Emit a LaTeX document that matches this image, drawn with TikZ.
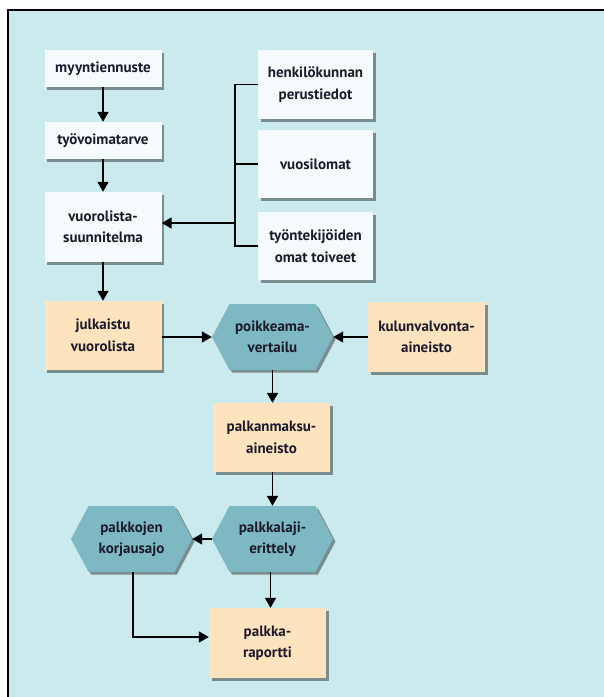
\documentclass[tikz,border=0pt]{standalone}
\usepackage{fontspec}
\setmainfont{PT Sans}
\usetikzlibrary{shapes.symbols,shadows,arrows.meta}
\definecolor{bgc}{HTML}{CBEAED}
\definecolor{wfill}{HTML}{F5FBFC}
\definecolor{tfill}{HTML}{FDE4BF}
\definecolor{hfill}{HTML}{7DB8C3}
\definecolor{txt}{HTML}{1C1A2A}
\tikzset{
  shad/.style={drop shadow={shadow xshift=2.5pt,shadow yshift=-2.5pt,fill=black,opacity=0.4}},
  base/.style={shad,inner sep=0pt,align=center,text=txt,
    font=\fontsize{15}{21.5}\selectfont\bfseries},
  wbox/.style={base,rectangle,fill=wfill,minimum width=117pt},
  tbox/.style={base,rectangle,fill=tfill,minimum width=117pt,minimum height=69pt},
  hexa/.style={base,signal,signal to=east and west,signal pointer angle=124,
    fill=hfill,minimum width=121pt,minimum height=66pt},
  conn/.style={line width=1.7pt,black},
  arr/.style={conn,-{Triangle[length=10pt,width=11pt]}}
}
\begin{document}
\begin{tikzpicture}[x=1pt,y=-1pt]
\useasboundingbox (0,0) rectangle (604,697);
\fill[white] (0,0) rectangle (604,697);
\fill[bgc] (8,10) rectangle (604,697);
\draw[line width=2pt] (8,697) -- (8,10) -- (604,10);

\node[wbox,minimum height=37pt] (my) at (103,68.5) {myyntiennuste};
\node[wbox,minimum height=37pt] (ty) at (103,140.5) {työvoimatarve};
\node[wbox,minimum height=70pt] (vs) at (103,227) {vuorolista-\\suunnitelma};

\node[wbox,minimum width=115pt,minimum height=69pt] (hk) at (315.5,84.5) {henkilökunnan\\perustiedot};
\node[wbox,minimum width=115pt,minimum height=68pt] (vl) at (315.5,164) {vuosilomat};
\node[wbox,minimum width=115pt,minimum height=68pt] (tt) at (315.5,246) {työntekijöiden\\omat toiveet};

\node[tbox] (jv) at (103,335.5) {julkaistu\\vuorolista};
\node[hexa] (pv) at (272.5,337) {poikkeama-\\vertailu};
\node[tbox,minimum height=70pt] (ka) at (426.5,337) {kulunvalvonta-\\aineisto};
\node[tbox] (pm) at (271.5,437.5) {palkanmaksu-\\aineisto};
\node[hexa] (pe) at (272.5,539) {palkkalaji-\\erittely};
\node[hexa] (pk) at (131.5,539) {palkkojen\\korjausajo};
\node[tbox,minimum width=117pt,minimum height=70pt] (pr) at (267.5,643) {palkka-\\raportti};

\coordinate (bj) at (235,223);

\draw[arr] (my) -- (ty);
\draw[arr] (ty) -- (vs);
\draw[arr] (vs) -- (jv);
\draw[conn] (hk.west) -| (bj) |- (tt.west);
\draw[conn] (vl.west) -- (vl.west -| bj);
\draw[arr] (bj) -- (vs.east |- bj);
\draw[arr] (jv.east |- pv.west) -- (pv.west);
\draw[arr] (ka.west) -- (pv.east);
\draw[arr] (pv.south) -- (pv.south |- pm.north);
\draw[arr] (pm.south -| pe.south) -- (pe.north);
\draw[arr] (pe.west) -- (pk.east);
\draw[arr] ([xshift=-2pt]pe.south) -- ([xshift=-2pt]pe.south |- pr.north);
\draw[arr] ([xshift=1.5pt]pk.south) |- ([yshift=6pt]pr.west);
\end{tikzpicture}
\end{document}
